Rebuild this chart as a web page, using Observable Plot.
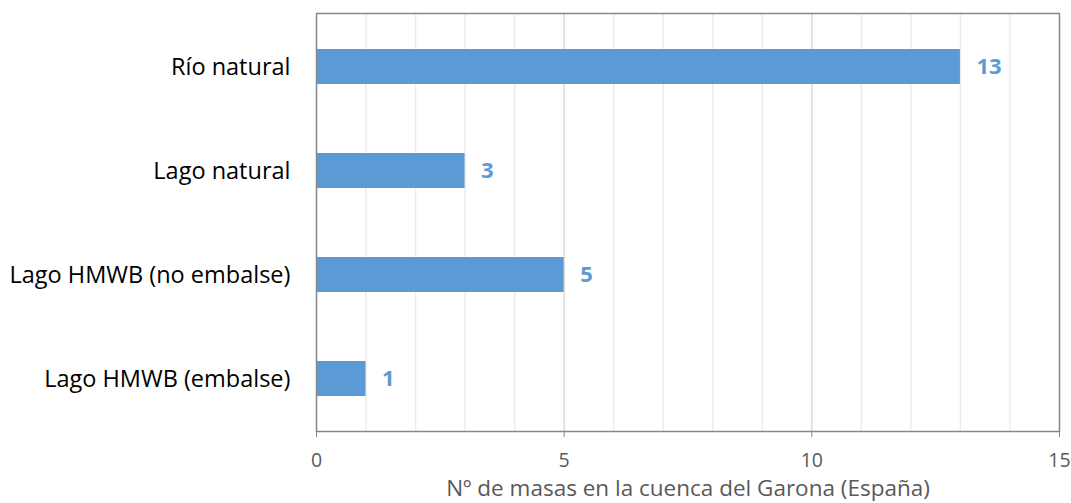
<!DOCTYPE html>
<html><head><meta charset="utf-8">
<script src="https://cdn.jsdelivr.net/npm/d3@7"></script>
<script src="https://cdn.jsdelivr.net/npm/@observablehq/plot@0.6"></script>
<style>body{margin:0;background:#fff}</style>
</head><body><div id="chart"></div>
<script>
const categories = ["Río natural", "Lago natural", "Lago HMWB (no embalse)", "Lago HMWB (embalse)"];
const values = [13, 3, 5, 1];
const xTicks = [0, 5, 10, 15];
const minorTicks = d3.range(1, 15).filter(d => d % 5 !== 0);
const xLabel = "Nº de masas en la cuenca del Garona (España)";
const data = categories.map((c, i) => ({cat: c, v: values[i]}));

const chart = Plot.plot({
  width: 1071, height: 503,
  marginLeft: 316, marginRight: 12, marginTop: 13, marginBottom: 72,
  style: {fontFamily: "'Open Sans', sans-serif", background: "#fff"},
  x: {domain: [0, 15], ticks: xTicks, label: null},
  y: {domain: categories, paddingInner: 0.665, paddingOuter: 0.3325, label: null},
  marks: [
    Plot.ruleX(minorTicks, {stroke: "#ececec", strokeWidth: 1.5}),
    Plot.ruleX([5, 10], {stroke: "#d9d9d9", strokeWidth: 1.5}),
    Plot.barX(data, {x: "v", y: "cat", fill: "#5b9bd5"}),
    Plot.text(data, {x: "v", y: "cat", text: d => String(d.v), dx: 16, textAnchor: "start",
      fill: "#5b9bd5", fontWeight: "bold", fontSize: 22}),
    Plot.frame({stroke: "#878787", strokeWidth: 1.5}),
    Plot.axisX({ticks: xTicks, tickSize: 6, tickFormat: () => "", stroke: "#878787", label: null}),
    Plot.text(xTicks, {x: d => d, text: d => String(d), frameAnchor: "bottom", lineAnchor: "middle", dy: 29,
      fontSize: 19.5, fill: "#595959"}),
    Plot.axisY({tickSize: 0, tickPadding: 26, fontSize: 23.5, color: "#000", label: null}),
    Plot.text([xLabel], {frameAnchor: "bottom", lineAnchor: "middle", dy: 57, fontSize: 22.5, fill: "#595959"})
  ]
});
document.getElementById("chart").append(chart);
</script></body></html>
